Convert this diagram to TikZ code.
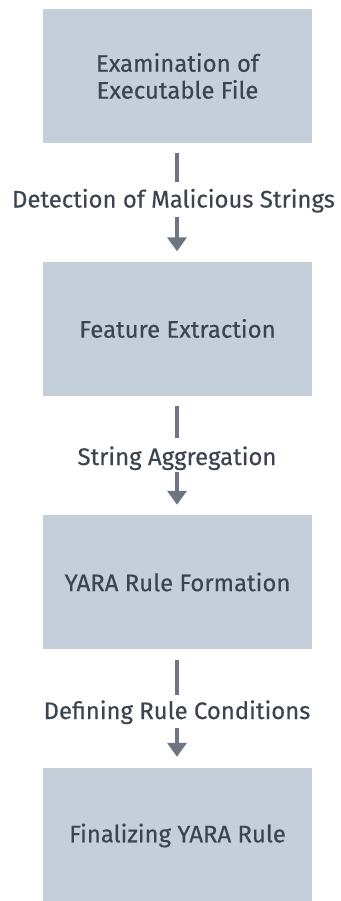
\documentclass[tikz,border=0pt]{standalone}
\usepackage{fontspec}
\setmainfont{Fira Sans}[FakeBold=0.4]
\usetikzlibrary{arrows.meta}
\definecolor{boxfill}{HTML}{C5CFDA}
\definecolor{txt}{HTML}{3C4450}
\definecolor{arr}{HTML}{6E7482}
\begin{document}
\begin{tikzpicture}[x=1bp,y=-1bp,
  stepbox/.style={fill=boxfill,draw=none,minimum width=269bp,minimum height=134bp,inner sep=0pt,
    text=txt,font=\fontsize{24}{27}\selectfont,align=center},
  lbl/.style={text=txt,font=\fontsize{24}{26}\selectfont,text height=17bp,text depth=0pt,inner ysep=0pt,inner xsep=0pt},
  seg/.style={draw=arr,line width=4bp},
  arrw/.style={draw=arr,line width=4bp,-{Triangle[width=19bp,length=14bp]}}]
\useasboundingbox (0,0) rectangle (340,901);
\node[stepbox] (b1) at (177.5,76) {Examination of\\Executable File};
\node[stepbox] (b2) at (177.5,328.5) {Feature Extraction};
\node[stepbox] (b3) at (177.5,582) {YARA Rule Formation};
\node[stepbox,minimum height=135bp] (b4) at (177.5,835.5) {Finalizing YARA Rule};
\node[lbl] (l1) at (173.5,199) {Detection of Malicious Strings};
\node[lbl] (l2) at (177,456.5) {String Aggregation};
\node[lbl] (l3) at (177,710.5) {Defining Rule Conditions};
\draw[seg,shorten <=10bp,shorten >=8bp] (b1.south -| l2) -- (l1.north -| l2);
\draw[arrw,shorten <=9bp,shorten >=10bp] (l1.south -| l2) -- (b2.north -| l2);
\draw[seg,shorten <=10bp,shorten >=10bp] (b2.south -| l2) -- (l2.north);
\draw[arrw,shorten <=7bp,shorten >=10bp] (l2.south) -- (b3.north -| l2);
\draw[seg,shorten <=11bp,shorten >=7bp] (b3.south -| l3) -- (l3.north);
\draw[arrw,shorten <=9bp,shorten >=11bp] (l3.south) -- (b4.north -| l3);
\end{tikzpicture}
\end{document}
